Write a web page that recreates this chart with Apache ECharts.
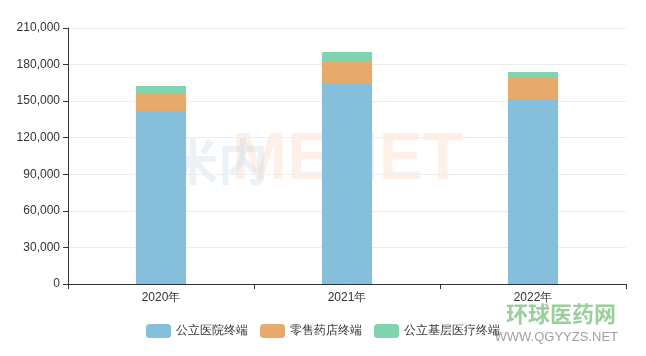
<!DOCTYPE html>
<html><head><meta charset="utf-8">
<script src="https://cdn.jsdelivr.net/npm/echarts@6/dist/echarts.min.js"></script>
<style>html,body{margin:0;padding:0;background:#fff}#c{width:646px;height:356px}</style>
</head><body><div id="c"></div>
<script>
const categories = ['2020年', '2021年', '2022年'];
const seriesNames = ['公立医院终端', '零售药店终端', '公立基层医疗终端'];
const hospital = [142000, 164000, 151800];
const retail = [14700, 18100, 18000];
const primary = [5700, 8200, 4100];
const colors = ['#86bfdb', '#e8aa6b', '#80d4b0'];
const chart = echarts.init(document.getElementById('c'));
const values = [hospital, retail, primary];
chart.setOption({
  animation: false,
  color: colors,
  grid: {left: 68, right: 20, top: 28, bottom: 72},
  legend: {
    bottom: 13, left: 'center', itemWidth: 25, itemHeight: 14, itemGap: 12,
    textStyle: {color: '#333', fontSize: 12},
    data: seriesNames
  },
  graphic: [
    {type: 'text', left: 232, top: 128, z: 0, style: {text: 'MENET', fill: 'rgba(245,185,150,0.22)', font: 'bold 66px Arial'}},
    {type: 'text', left: 168, top: 136, z: 0, style: {text: '米内', fill: 'rgba(150,190,220,0.2)', font: 'bold 50px "Noto Sans CJK SC"'}},
    {type: 'text', right: 30, top: 303, style: {text: '环球医药网', fill: 'rgba(120,190,120,0.75)', font: 'bold 22px "Noto Sans CJK SC"'}},
    {type: 'text', right: 28, top: 331, style: {text: 'WWW.QGYYZS.NET', fill: 'rgba(150,150,150,0.9)', font: '13px Arial'}}
  ],
  xAxis: {
    type: 'category', data: categories,
    axisLine: {lineStyle: {color: '#333'}},
    axisTick: {show: true, lineStyle: {color: '#333'}},
    axisLabel: {color: '#333', fontSize: 12}
  },
  yAxis: {
    type: 'value', min: 0, max: 210000, interval: 30000,
    axisLine: {show: true, lineStyle: {color: '#333'}},
    axisTick: {show: true, lineStyle: {color: '#333'}},
    axisLabel: {color: '#333', fontSize: 12, formatter: v => v.toLocaleString('en-US')},
    splitLine: {lineStyle: {color: '#eee'}}
  },
  series: seriesNames.map((n, i) => ({
    name: n, type: 'bar', stack: 'total', barWidth: '27%', data: values[i]
  }))
});
</script></body></html>
